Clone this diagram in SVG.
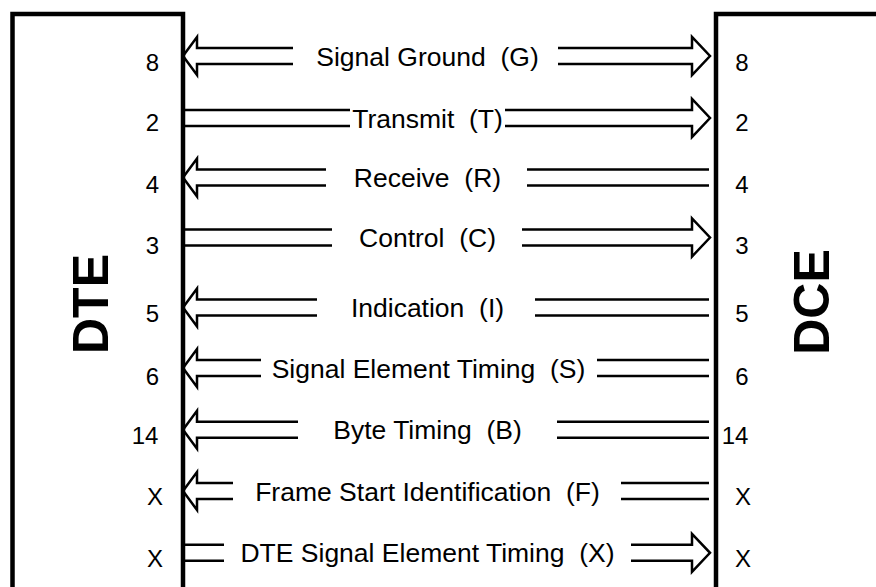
<svg xmlns="http://www.w3.org/2000/svg" width="876" height="587" viewBox="0 0 876 587">
<style>
.box{fill:none;stroke:#000;stroke-width:4.5}
.ar{fill:none;stroke:#000;stroke-width:2.5;stroke-linejoin:miter;stroke-miterlimit:10}
.lbl{font-family:"Liberation Sans",Arial,sans-serif;font-size:26.5px;fill:#000;text-anchor:middle;white-space:pre}
.num{font-family:"Liberation Sans",Arial,sans-serif;font-size:24px;fill:#000;text-anchor:middle}
.big{font-family:"Liberation Sans",Arial,sans-serif;font-size:50px;font-weight:bold;fill:#000;text-anchor:middle}
</style>
<rect width="876" height="587" fill="#fff"/>
<g id="dte">
<path class="box" d="M12.5,592 V14 H183 V592"/>
<text class="big" transform="translate(108,304) rotate(-90)">DTE</text>
<text class="num" x="152.5" y="70.5">8</text>
<text class="num" x="152.5" y="130.5">2</text>
<text class="num" x="152.5" y="193">4</text>
<text class="num" x="152.5" y="254">3</text>
<text class="num" x="152.5" y="322">5</text>
<text class="num" x="152.5" y="385">6</text>
<text class="num" x="145" y="444">14</text>
<text class="num" x="155" y="505">X</text>
<text class="num" x="155" y="567">X</text>
</g>
<g id="dce">
<path class="box" d="M716,592 V14 H880"/>
<text class="big" transform="translate(829,302) rotate(-90)">DCE</text>
<text class="num" x="742" y="70.5">8</text>
<text class="num" x="742" y="130.5">2</text>
<text class="num" x="742" y="193">4</text>
<text class="num" x="742" y="254">3</text>
<text class="num" x="742" y="322">5</text>
<text class="num" x="742" y="385">6</text>
<text class="num" x="735" y="444">14</text>
<text class="num" x="743" y="505">X</text>
<text class="num" x="743" y="567">X</text>
</g>
<g id="connectors">
<path class="ar" d="M293,48 H197 V37 L183,56 L197,75 V64 H293"/>
<path class="ar" d="M558,48 H692 V37 L710,56 L692,75 V64 H558"/>
<path class="ar" d="M350,110 H183 M350,126 H183"/>
<path class="ar" d="M505,110 H692 V99 L710,118 L692,137 V126 H505"/>
<path class="ar" d="M326,169.5 H197 V158.5 L183,177.5 L197,196.5 V185.5 H326"/>
<path class="ar" d="M527,169.5 H709 M527,185.5 H709"/>
<path class="ar" d="M332,229.5 H183 M332,245.5 H183"/>
<path class="ar" d="M522,229.5 H692 V218.5 L710,237.5 L692,256.5 V245.5 H522"/>
<path class="ar" d="M317,299.5 H197 V288.5 L183,307.5 L197,326.5 V315.5 H317"/>
<path class="ar" d="M535,299.5 H709 M535,315.5 H709"/>
<path class="ar" d="M261,360 H197 V349 L183,368 L197,387 V376 H261"/>
<path class="ar" d="M597,360 H709 M597,376 H709"/>
<path class="ar" d="M298,421.7 H197 V410.7 L183,429.7 L197,448.7 V437.7 H298"/>
<path class="ar" d="M557,421.7 H709 M557,437.7 H709"/>
<path class="ar" d="M233,483 H197 V472 L183,491 L197,510 V499 H233"/>
<path class="ar" d="M621,483 H709 M621,499 H709"/>
<path class="ar" d="M224,544.8 H183 M224,560.8 H183"/>
<path class="ar" d="M631,544.8 H692 V533.8 L710,552.8 L692,571.8 V560.8 H631"/>
</g>
<g id="labels">
<text class="lbl" x="427.5" y="65.5">Signal Ground  (G)</text>
<text class="lbl" x="427.5" y="127.5">Transmit  (T)</text>
<text class="lbl" x="427.5" y="187">Receive  (R)</text>
<text class="lbl" x="427.5" y="247">Control  (C)</text>
<text class="lbl" x="427.5" y="317">Indication  (I)</text>
<text class="lbl" x="428.5" y="377.5">Signal Element Timing  (S)</text>
<text class="lbl" x="427.5" y="439">Byte Timing  (B)</text>
<text class="lbl" x="427.5" y="500.5">Frame Start Identification  (F)</text>
<text class="lbl" x="427.5" y="562">DTE Signal Element Timing  (X)</text>
</g>
</svg>
